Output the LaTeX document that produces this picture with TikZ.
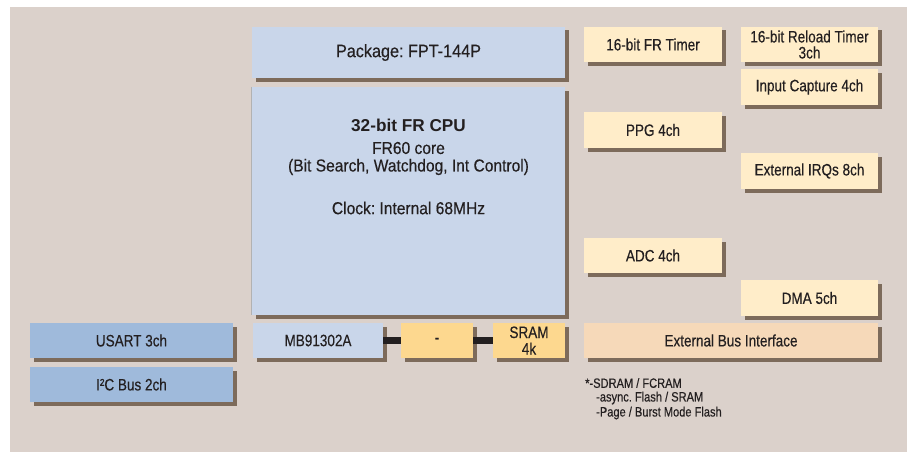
\documentclass[tikz,border=0pt]{standalone}
\usepackage{fontspec}
\setmainfont{Liberation Sans}[FakeStretch=0.82, FakeBold=0.35]
\newfontfamily\widesans{Liberation Sans}
\newfontfamily\cpusans{Liberation Sans}[FakeStretch=0.9, FakeBold=0.35]
\usetikzlibrary{shadows}
\definecolor{bgc}{HTML}{DBD1CB}
\definecolor{shadowc}{HTML}{7D6B5B}
\definecolor{cpublue}{HTML}{C9D6EA}
\definecolor{midblue}{HTML}{9FBADB}
\definecolor{pale}{HTML}{FFEDC9}
\definecolor{peach}{HTML}{F6D9B9}
\definecolor{gold}{HTML}{FDD88F}
\definecolor{txt}{HTML}{231F20}
\tikzset{
  box/.style={rectangle, inner sep=0pt, text=txt, align=center,
    general shadow={fill=shadowc, shadow xshift=3.5pt, shadow yshift=-3.5pt},
    font=\fontsize{16.5}{16.5}\selectfont},
  bluebox/.style={box, fill=cpublue},
  midbox/.style={box, fill=midblue},
  palebox/.style={box, fill=pale, minimum width=138pt, minimum height=35pt},
  peachbox/.style={box, fill=peach},
  goldbox/.style={box, fill=gold},
  label/.style={inner sep=0pt, text=txt, align=center},
  cputext/.style={label, font=\cpusans\fontsize{17.3}{17.3}\selectfont},
  foot/.style={inner sep=0pt, text=txt, anchor=west, font=\fontsize{13.5}{13.5}\selectfont},
  bus/.style={line width=7pt, draw=txt}
}
\begin{document}
\frenchspacing
\begin{tikzpicture}[x=1pt, y=-1pt]
\useasboundingbox (0,0) rectangle (909,452);
\fill[bgc] (10,7) rectangle (907,452);
% CPU block
\node[bluebox, minimum width=313pt, minimum height=51pt, font=\cpusans\fontsize{18}{18}\selectfont] (pkg) at (408.5,52.5) {Package: FPT-144P};
\node[bluebox, minimum width=313pt, minimum height=228pt] (cpu) at (408.5,201) {};
\draw[draw=black!30, line width=0.8pt] (cpu.north west) -- (cpu.south west);
\node[label, font=\widesans\bfseries\fontsize{17.2}{17.2}\selectfont] (cputitle) at (408.5,125) {32-bit FR CPU};
\node[cputext] (core) at (408.5,148) {FR60 core};
\node[cputext] (feat) at (408.5,167) {(Bit Search, Watchdog, Int Control)};
\node[cputext] (clk) at (408.5,208) {Clock: Internal 68MHz};
% peripherals
\node[palebox] (frt) at (653,44.5) {16-bit FR Timer};
\node[palebox, minimum width=137pt, font=\fontsize{16.5}{16}\selectfont] (rlt) at (809.5,44.5) {16-bit Reload Timer\\3ch};
\node[palebox, minimum width=137pt, minimum height=36pt] (icu) at (809.5,87) {Input Capture 4ch};
\node[palebox, minimum height=36pt] (ppg) at (653,130) {PPG 4ch};
\node[palebox, minimum width=137pt, minimum height=36pt] (irq) at (809.5,171) {External IRQs 8ch};
\node[palebox] (adc) at (653,255.5) {ADC 4ch};
\node[palebox, minimum width=137pt, minimum height=36pt] (dma) at (809.5,298) {DMA 5ch};
\node[peachbox, minimum width=294pt, minimum height=35pt] (ebi) at (731,340.5) {External Bus Interface};
% left
\node[midbox, minimum width=203pt, minimum height=35pt] (usart) at (131.5,340.5) {USART 3ch};
\node[midbox, minimum width=203pt, minimum height=35pt] (iic) at (131.5,384.5) {I²C Bus 2ch};
% bottom row
\node[bluebox, minimum width=130pt, minimum height=35pt] (mb) at (318,340.5) {MB91302A};
\node[goldbox, minimum width=72pt, minimum height=35pt] (dash) at (437,340.5) {-};
\node[goldbox, minimum width=72pt, minimum height=35pt, font=\fontsize{16.5}{16.5}\selectfont] (sram) at (529,340.5) {SRAM\\4k};
\draw[bus] (mb.east) -- (dash.west);
\draw[bus] (dash.east) -- (sram.west);
% footnote
\node[foot] (f1) at (585,383) {*-SDRAM / FCRAM};
\node[foot] (f2) at (596,398) {-async. Flash / SRAM};
\node[foot] (f3) at (596,413) {-Page / Burst Mode Flash};
\end{tikzpicture}
\end{document}
